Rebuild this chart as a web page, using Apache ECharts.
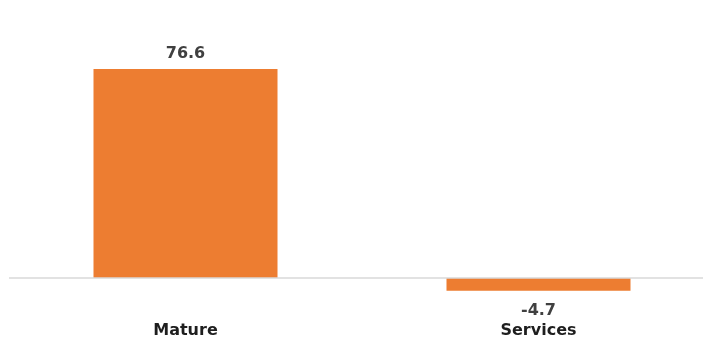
<!DOCTYPE html>
<html><head><meta charset="utf-8">
<script src="https://cdn.jsdelivr.net/npm/echarts@6/dist/echarts.min.js"></script>
<style>html,body{margin:0;padding:0;background:#fff}#c{width:703px;height:338px}</style>
</head><body><div id="c"></div>
<script>
const categories = ['Mature', 'Services'];
const values = [76.6, -4.7];

const chart = echarts.init(document.getElementById('c'), null, {renderer: 'canvas'});
chart.setOption({
  animation: false,
  grid: {left: 9, width: 706, top: 32.5, height: 272.8, outerBoundsMode: 'none', containLabel: false},
  xAxis: {
    type: 'category', data: categories,
    axisLine: {show: false, onZero: false},
    axisTick: {show: false},
    axisLabel: {margin: 18, color: '#1e1e1e', fontFamily: 'DejaVu Sans', fontWeight: 'bold', fontSize: 16}
  },
  yAxis: {type: 'value', min: -10, max: 90, show: false, splitLine: {show: false}},
  series: [{
    type: 'bar', barWidth: 184,
    itemStyle: {color: '#ED7D31'},
    label: {show: true, color: '#404040', fontFamily: 'DejaVu Sans', fontWeight: 'bold', fontSize: 16},
    data: values.map(v => ({value: v, label: {position: v < 0 ? 'bottom' : 'top', distance: v < 0 ? 12 : 7}})),
    markLine: {
      silent: true, symbol: 'none', label: {show: false},
      lineStyle: {color: '#d9d9d9', width: 1.5, type: 'solid'},
      data: [{yAxis: 0}]
    }
  }]
});
</script></body></html>
